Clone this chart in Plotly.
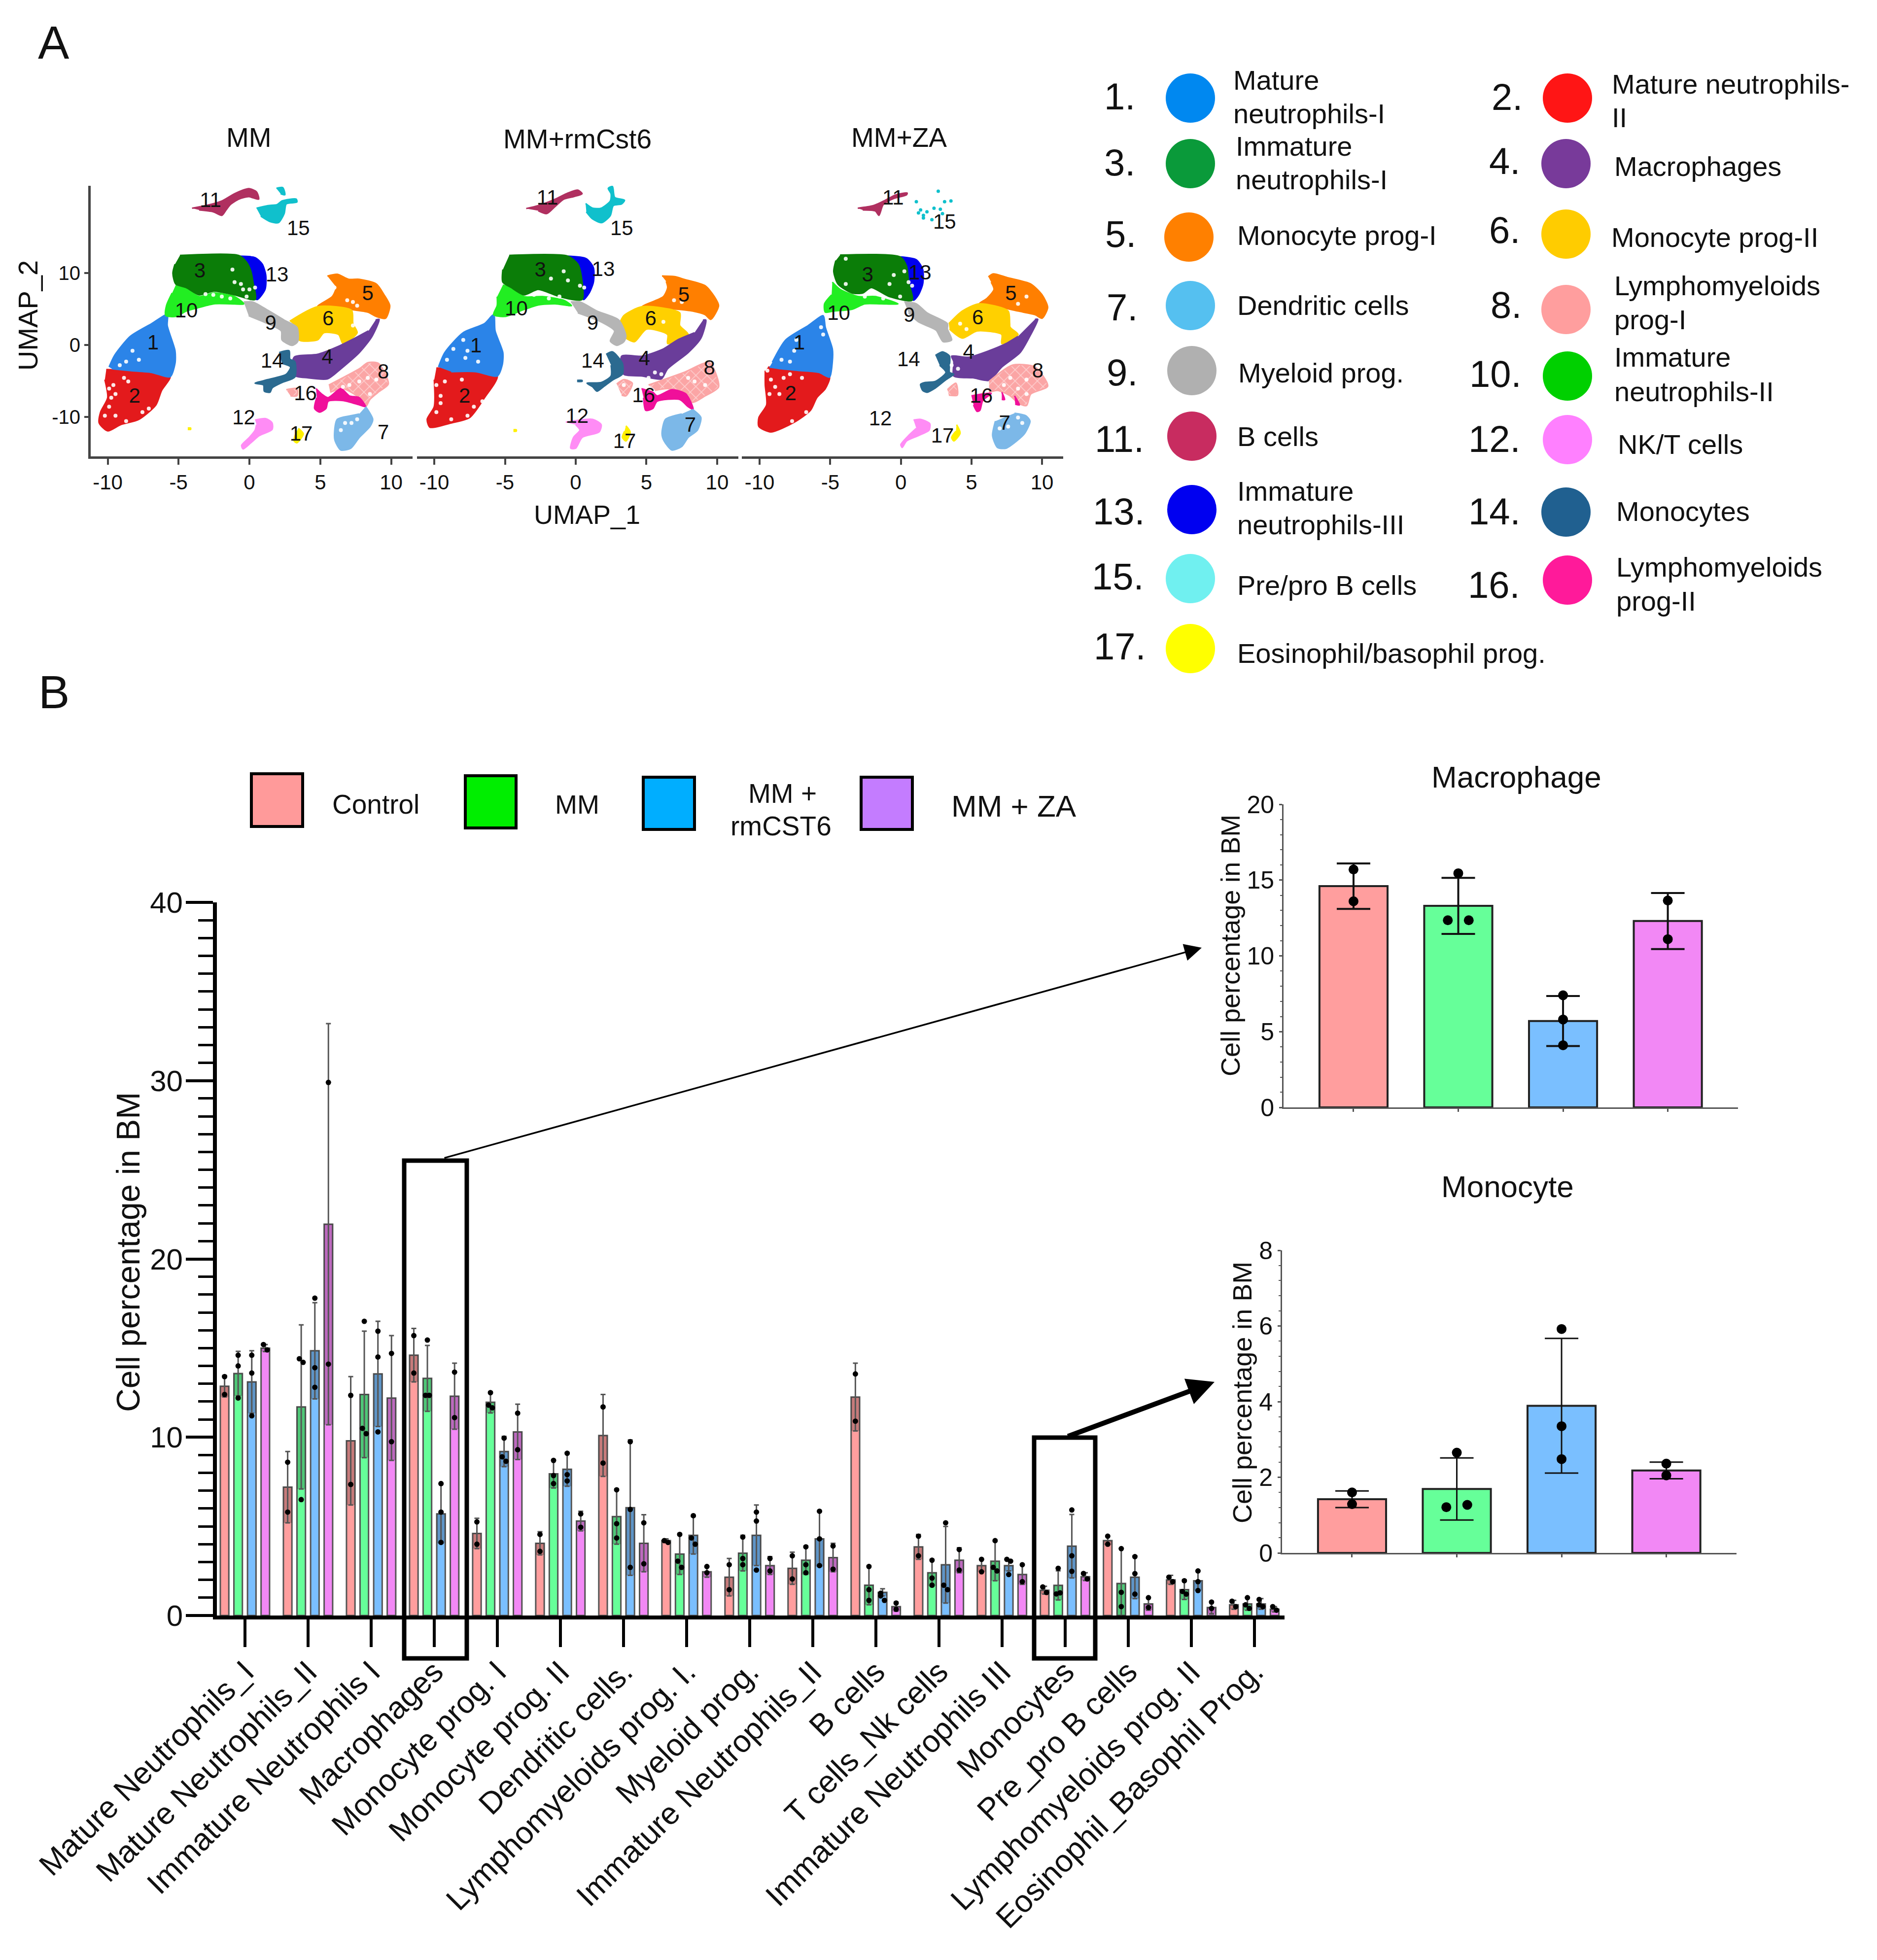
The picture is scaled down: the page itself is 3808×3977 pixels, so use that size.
import plotly.graph_objects as go

W, H = 3808, 3977
FONT = "Liberation Sans"

# ---------------------------------------------------------------- panel B data
CATEGORIES = ["Mature Neutrophils_I", "Mature Neutrophils_II", "Immature Neutrophils I", "Macrophages",
              "Monocyte prog. I", "Monocyte prog. II", "Dendritic cells.", "Lymphomyeloids prog. I.",
              "Myeloid prog.", "Immature Neutrophils_II", "B cells", "T cells_Nk cells",
              "Immature Neutrophils III", "Monocytes", "Pre_pro B cells", "Lymphomyeloids prog. II",
              "Eosinophil_Basophil Prog."]
SERIES = ["Control", "MM", "MM + rmCST6", "MM + ZA"]

CONTROL_MEAN = [12.86, 7.2, 9.8, 14.6, 4.6, 4.05, 10.1, 4.2, 2.15, 2.65, 12.25, 3.85, 2.8, 1.42, 4.2, 2.0, 0.6]
CONTROL_ERR = [0.6, 2.0, 3.6, 1.5, 0.85, 0.65, 2.3, 0.1, 1.05, 0.9, 1.9, 0.7, 0.35, 0.22, 0.25, 0.25, 0.25]
CONTROL_DOTS = [[13.4, 12.4], [8.6, 5.8], [12.35, 7.35], [15.7, 13.6], [5.25, 4.0], [4.55, 3.6], [11.7, 8.55],
                [4.2, 4.1], [2.85, 1.45], [3.35, 2.05], [13.55, 10.9], [4.45, 3.35], [3.15, 2.45], [1.6, 1.29],
                [4.45, 4.0], [2.15, 1.9], [0.8, 0.5]]

MM_MEAN = [13.57, 11.7, 12.4, 13.3, 11.96, 7.95, 5.55, 3.45, 3.5, 3.1, 1.7, 2.4, 3.05, 1.69, 1.8, 1.45, 0.65]
MM_ERR = [1.25, 4.6, 3.55, 1.85, 0.6, 0.8, 1.55, 1.15, 1.0, 0.8, 1.1, 0.75, 1.1, 0.82, 1.95, 0.55, 0.35]
MM_DOTS = [[14.6, 14.0, 12.2], [14.4, 14.2, 6.5], [16.5, 10.5, 10.2], [15.45, 12.35, 12.35], [12.5, 11.8, 11.65],
           [8.7, 7.85, 7.4], [7.05, 5.15, 4.35], [4.55, 3.05, 2.7], [4.4, 3.2, 2.85], [3.85, 2.85, 2.4],
           [2.75, 1.45, 0.85], [3.1, 2.1, 1.7], [4.2, 2.7, 2.5], [2.65, 1.21, 1.27], [3.75, 1.3, 0.5],
           [1.95, 1.35, 1.2], [1.0, 0.6, 0.4]]

RMCST6_MEAN = [13.1, 14.85, 13.55, 5.7, 9.2, 8.2, 6.05, 4.5, 4.5, 4.3, 1.3, 2.85, 2.8, 3.89, 2.15, 1.95, 0.65]
RMCST6_ERR = [1.75, 2.7, 2.95, 1.65, 0.85, 0.95, 3.8, 1.05, 1.7, 1.55, 0.2, 2.15, 0.3, 1.78, 1.2, 0.55, 0.3]
RMCST6_DOTS = [[14.6, 13.6, 11.2], [17.8, 13.9, 12.8], [15.95, 14.5, 10.3], [7.4, 5.8, 4.1], [9.95, 8.9, 8.65],
               [9.1, 7.9, 7.55], [9.75, 5.95, 2.7], [5.6, 4.35, 4.0], [5.8, 5.3, 2.55], [5.85, 4.3, 2.8],
               [1.25, 1.1, 0.85], [5.2, 1.7, 1.45], [3.15, 3.05, 2.3], [5.92, 3.35, 2.48], [3.3, 2.35, 1.2],
               [2.5, 1.9, 1.4], [0.9, 0.6, 0.5]]

ZA_MEAN = [15.0, 21.95, 12.2, 12.3, 10.3, 5.3, 4.05, 2.45, 2.8, 3.25, 0.5, 3.1, 2.3, 2.18, 0.65, 0.45, 0.35]
ZA_ERR = [0.2, 11.25, 3.5, 1.85, 1.55, 0.55, 1.6, 0.3, 0.5, 0.8, 0.25, 0.7, 0.55, 0.22, 0.35, 0.35, 0.15]
ZA_DOTS = [[15.2, 14.9], [29.9, 14.1], [14.7, 9.75], [13.65, 11.1], [11.35, 9.3], [5.7, 4.95], [5.2, 2.9],
           [2.75, 2.4], [3.2, 2.5], [3.9, 2.6], [0.7, 0.35], [3.7, 2.55], [2.85, 1.9], [2.36, 2.05],
           [1.0, 0.45], [0.75, 0.4], [0.5, 0.3]]

MACROPHAGE_INDEX = CATEGORIES.index("Macrophages")
MONOCYTE_INDEX = CATEGORIES.index("Monocytes")

# ---------------------------------------------------------------- panel A data
CLUSTER_NAMES = {1: ["Mature", "neutrophils-I"], 2: ["Mature neutrophils-", "II"], 3: ["Immature", "neutrophils-I"],
                 4: ["Macrophages"], 5: ["Monocyte prog-I"], 6: ["Monocyte prog-II"], 7: ["Dendritic cells"],
                 8: ["Lymphomyeloids", "prog-I"], 9: ["Myeloid prog."], 10: ["Immature", "neutrophils-II"],
                 11: ["B cells"], 12: ["NK/T cells"], 13: ["Immature", "neutrophils-III"], 14: ["Monocytes"],
                 15: ["Pre/pro B cells"], 16: ["Lymphomyeloids", "prog-II"], 17: ["Eosinophil/basophil prog."]}
N = None
MM_SHAPES = {
 2: ([-10.1,-8.4,-6.9,-5.6,-6.2,-6.6,-7.8,-9.1,-10,-10.6,-10.5,-10,-10.2], [-3.4,-3.55,-3.8,-4.4,-6.3,-8.3,-10.3,-11.05,-11.9,-10.8,-9.3,-7.3,-4.8]),
 1: ([-9.9,-9.5,-8.4,-6.9,-5.8,-5.8,-5.25,-5.25,-5.6,-6.9,-8.4,-9.7], [-3.05,-1.4,1.2,2.95,4.2,2.7,-0.8,-2.55,-4.4,-3.8,-3.55,-3.3]),
 10: ([-5.2,-4.45,-3.55,-2.5,-1.05,-0.4,-1.35,-2.5,-3.55,-4.45,-5.2,-5.9,-5.85,-5.45], [8.3,7.8,6.7,7.2,6.7,5.7,5.7,5.7,5.2,4.7,3.95,4.1,5.45,7.2]),
 13: ([-0.75,0.4,0.9,1.15,1.1,0.55,0.25,0.2,0.05,-0.3], [12.3,12.1,11.2,9.7,7.7,6.3,6.7,8.7,10.45,11.7]),
 3: ([-4.9,-0.75,-0.2,0.1,0.25,0.4,-1.05,-2.5,-3.55,-4.45,-5.2,-5.4,-5.25], [12.4,12.4,11.45,10.2,8.7,6.3,6.95,7.45,6.95,7.95,8.45,9.95,11.2]),
 5: ([5.5,6.2,7.0,7.75,8.95,9.5,9.9,9.6,8.95,8.35,7.0,4.8,5.85,6.15], [9.55,9.8,9.1,9.1,8.45,6.95,5.45,3.7,3.95,4.55,4.95,5.3,6.7,7.95]),
 6: ([2.85,4.8,7.2,7.3,7.6,6.6,6.3,5.25,4.8,3.5,3.35], [3.3,5.3,4.8,2.95,1.7,0.2,1.45,1.7,0.7,0.7,2.45]),
 9: ([-0.4,0.25,1.3,2.45,3.35,3.4,3.0,2.3,2.25,1.3,-0.05], [5.95,5.95,4.8,3.45,2.45,0.45,-0.05,0.7,1.95,2.95,4.05]),
 4: ([8.9,9.15,8.65,7.75,6.3,5.5,4.1,3.15,3.15,4.8,6.15,7.45,8.4], [3.45,3.55,1.2,-1.05,-3.55,-4.7,-4.55,-4.2,-1.7,-1.3,-0.3,0.95,1.95]),
 14: ([2.1,2.8,2.85,3.2,3.2,2.3,1.6,1.45,1.05,1.0,0.4,1.3,2.6,2.9,2.3], [-1.05,-0.8,-1.95,-2.3,-4.45,-5.2,-5.95,-6.55,-6.4,-5.55,-5.3,-4.8,-4.05,-3.05,-2.55]),
 8: ([5.6,7.75,8.35,9.1,9.8,9.15,8.5,8.2,7.75,6.6,5.7,N,2.6,3.35,3.35,2.9], [-5.55,-3.3,-2.45,-2.55,-5.4,-6.45,-7.55,-8.55,-7.3,-6.05,-6.55,N,-6.2,-6.05,-7.05,-7.05]),
 16: ([4.7,5.1,5.55,6.45,7.05,7.75,8.2,7.75,6.6,5.55,5.4,4.95,4.6,4.75], [-6.05,-6.8,-7.3,-6.05,-7.05,-7.3,-8.55,-8.3,-7.7,-7.8,-8.8,-9.3,-8.8,-7.3]),
 7: ([8.2,8.7,8.5,7.75,7.15,6.45,6.05,6.0,6.2,7.15,7.75], [-8.55,-10.3,-11.3,-12.8,-14.3,-14.55,-13.3,-12.3,-10.3,-9.8,-9.55]),
 12: ([0.4,1.15,1.6,1.6,0.7,0.1,-0.45,-0.55,0,0.4,0.5], [-10.4,-10.2,-10.8,-11.7,-12.55,-13.55,-14.4,-13.9,-12.8,-11.8,-11.05]),
 17: ([3.45,3.8,3.35,3.15,3.3,N,-4.35,-4.15,-4.15,-4.35], [-11.55,-12.3,-13.55,-13.3,-12.05,N,-11.5,-11.5,-11.7,-11.7]),
 11: ([-4.05,-3.1,-1.95,-1.05,-0.05,0.5,0.65,-0.05,-0.75,-1.35,-1.65,-1.95,-2.55,-3.55], [18.95,19.3,19.95,20.95,21.65,21.2,20.2,20.55,20.2,19.45,18.7,17.95,18.45,18.7]),
 15: ([0.5,1.3,1.95,2.3,3.3,3.35,2.6,2.45,2.05,1.45,0.8,N,1.9,2.35,2.5,2.2], [18.95,19.3,19.45,19.95,20.2,19.8,19.55,18.2,16.95,17.1,17.85,N,21.7,21.8,20.8,20.95]),
}
MM_RMCST6_SHAPES = {
 2: ([-9.85,-8.05,-5.55,-6.45,-7.5,-8.8,-10.3,-10.5,-10,-10], [-3.2,-3.4,-4.3,-7.3,-10.05,-10.8,-11.4,-10.3,-8.55,-4.8]),
 1: ([-9.7,-9.25,-7.95,-6.45,-5.8,-5.7,-5.15,-5.2,-5.55,-7.05,-8.8], [-3.05,-1.05,1.7,2.95,4.2,1.95,-1.05,-2.8,-4.3,-3.7,-3.7]),
 10: ([-5.15,-4.55,-3.65,-2.35,-0.85,-0.3,-1.45,-2.65,-3.8,-5,-5.8,-5.55,-5.55], [8.3,7.95,6.7,6.7,6.2,5.45,5.7,5.55,4.8,3.95,4.2,5.45,6.7]),
 13: ([-0.55,0.75,1.25,1.25,0.95,0.55,0.4,0.3], [12.3,11.95,10.7,8.7,7.2,6.3,8.7,10.7]),
 3: ([-4.7,-0.55,0.15,0.4,0.45,-1.15,-2.65,-3.65,-4.55,-5.15,-5.15], [12.4,12.3,11.2,9.45,6.3,6.7,7.7,6.95,7.95,8.7,10.45]),
 5: ([6.1,7.05,7.65,9.15,9.8,10.1,9.55,9.15,8.25,7.2,4.7,6.2,6.5,6.4], [9.55,9.45,9.1,8.2,6.7,5.45,3.55,4.2,4.7,4.95,5.3,6.7,7.95,8.8]),
 6: ([3.05,3.4,4.7,7.35,7.35,7.95,6.5,6.5,5.0,4.15,3.55], [2.7,4.05,5.3,4.45,2.7,1.45,0.2,1.45,2.2,0.45,0.95]),
 9: ([-0.35,0.3,1.5,3.05,3.55,3.4,2.9,2.45,2.75,1.8,0.15], [5.95,5.95,4.7,3.45,1.2,0.45,-0.05,0.55,1.95,3.2,4.45]),
 4: ([9,9.2,8.85,7.95,6.5,6.05,4.7,3.4,3.25,4.7,6.2,7.2,8.4], [3.45,3.45,0.95,-1.05,-3.3,-4.7,-4.3,-4.05,-1.55,-1.55,-0.55,0.7,1.7]),
 14: ([2.15,2.6,3.3,3.3,2.65,1.95,1.5,1.2,0.8,1.8,2.5,2.5,N,0.1,0.45,0.45,0.1], [-1.3,-0.95,-2.55,-4.05,-4.8,-5.8,-6.4,-5.8,-5.3,-5.2,-4.3,-2.8,N,-4.9,-4.9,-5.05,-5.05]),
 8: ([5.15,7.65,9.45,10.1,9.15,8.25,7.95,6.5,5.6,N,2.9,3.4,4.0,3.55,3.25], [-5.55,-3.8,-2.45,-5.8,-7.05,-7.95,-6.8,-6.05,-6.3,N,-5.4,-4.8,-5.3,-7.05,-6.95]),
 16: ([4.65,5.45,5.75,6.8,7.8,8.3,7.95,7.35,5.75,5.45,4.95,4.8], [-6.05,-6.55,-7.05,-6.2,-6.8,-8.9,-8.55,-7.55,-7.8,-8.8,-9.05,-7.3]),
 7: ([8.25,8.85,8.6,7.95,7.5,6.8,6.25,6.1,6.35,7.5], [-8.9,-10.05,-11.8,-12.8,-14.05,-14.55,-13.3,-12.3,-10.3,-9.55]),
 12: ([-0.7,1.2,1.8,1.65,0.45,0,-0.35,-0.15,0.3,0], [-10.7,-10.3,-11.05,-12.05,-12.8,-14.3,-14.3,-12.8,-11.8,-11.05]),
 17: ([3.55,3.85,3.55,3.3,3.45,N,-4.4,-4.2,-4.2,-4.4], [-11.2,-12.05,-13.3,-12.8,-11.95,N,-11.75,-11.75,-11.95,-11.95]),
 11: ([-3.5,-2.65,-1.45,-0.55,0.15,0.45,-0.15,-0.85,-1.45,-2.05,-2.65], [18.9,19.3,20.2,21.05,21.45,20.95,20.55,20.2,19.2,18.2,18.6]),
 15: ([0.7,1.2,1.8,2.45,2.5,2.3,2.6,2.75,3.45,3.25,2.65,2.45,1.85,1.2,0.75], [19.6,18.95,18.95,19.95,20.95,21.7,21.95,20.45,20.05,19.55,19.3,17.95,16.95,17.45,18.45]),
}
MM_ZA_SHAPES = {
 2: ([-9.4,-8.45,-7.1,-5.8,-5.05,-5.35,-5.95,-6.4,-7.55,-9.2,-10.05,-10.05,-9.5,-9.6,-9.6], [-3.05,-3.3,-3.55,-3.9,-4.45,-6.05,-7.3,-9.05,-10.7,-12.05,-11.3,-10.05,-8.3,-5.55,-3.55]),
 1: ([-9.1,-8.15,-6.55,-5.5,-5.35,-4.85,-4.85,-5.05,-5.8,-7.1,-8.45,-9.3], [-2.4,0.7,2.7,4.05,2.45,-0.55,-2.3,-4.45,-3.8,-3.55,-3.3,-3.05]),
 10: ([-4.85,-4.3,-3,-1.8,-0.2,-1.4,-2.55,-3.45,-4.75,-5.35,-5.4,-4.9], [8.7,7.7,6.7,6.7,5.7,5.7,5.7,4.95,4.7,4.55,5.7,6.95]),
 13: ([-0.05,1.1,1.55,1.55,1.25,0.9,0.55,0.4], [12.2,11.8,10.45,8.45,6.95,6.2,8.45,10.95]),
 3: ([-4.3,-0.05,0.4,0.55,0.8,-0.8,-2.1,-2.7,-3.45,-4.45,-4.75,-4.6], [12.45,12.2,10.95,8.7,6.2,6.7,7.95,7.2,7.2,8.45,10.2,11.7]),
 5: ([6.2,6.55,7.6,9.2,10,10.4,10,9.5,8.3,7.15,5.55,6.1,6.6,6.4], [9.45,9.85,9.3,8.45,6.95,5.2,3.7,4.2,4.7,5.2,5.7,6.45,7.7,8.7]),
 6: ([3.4,4.35,5.55,7.6,7.75,8.3,7.15,7.15,5.4,4.35,3.45], [2.95,4.7,5.7,4.7,2.45,1.45,0.2,1.45,1.95,0.95,2.2]),
 9: ([0.25,1.1,1.85,3.3,3.3,3.6,3.0,2.75,2.5,1.25,0.55], [5.95,5.7,4.45,2.95,2.2,0.7,0.45,1.2,2.05,3.2,4.45]),
 4: ([9.5,9.7,9.2,8.45,7.15,6.25,5.1,3.75,3.75,3.6,4.8,6.25,7.45,8.3], [3.55,3.55,1.45,-1.05,-3.05,-4.9,-4.55,-4.3,-2.3,-1.55,-1.7,-0.8,0.2,1.2]),
 14: ([2.45,2.95,3.45,3.45,3.75,3.2,2.45,1.85,1.55,1.4,1.7,2.45,3.2,2.75], [-1.45,-0.95,-1.55,-3.8,-4.05,-4.8,-5.95,-6.55,-6.3,-5.45,-5.2,-5.05,-3.8,-2.8]),
 8: ([6.25,7.9,9.5,10.4,9.2,8.9,8.3,7.75,6.85,6.25,N,3.3,3.9,4.0,3.4], [-5.05,-2.8,-3.05,-5.7,-6.8,-8.4,-8.05,-7.05,-6.3,-6.55,N,-6.2,-5.3,-6.95,-6.95]),
 16: ([5,6.4,5.8,5.6,5.4,5.15,N,7.15,7.35,7.15,N,8.05,8.4,8.1], [-7.05,-6.7,-7.7,-9.05,-9.2,-8.3,N,-6.55,-7.55,-7.55,N,-7.05,-8.3,-8.2]),
 7: ([8.05,8.85,9.15,8.75,8.2,7.45,6.85,6.5,6.7], [-9.45,-9.8,-10.55,-12.3,-13.3,-14.3,-14.2,-12.55,-10.55]),
 12: ([0.9,1.4,2.05,2.0,1.25,0.4,0.1,0,0.55,1.1], [-10.4,-10.3,-10.9,-11.8,-12.55,-13.3,-14.2,-13.8,-12.55,-11.55]),
 17: ([3.95,4.2,3.75,3.6,3.9], [-11.05,-12.2,-13.3,-12.8,-11.95]),
 11: ([-3.05,-1.95,-1.1,-0.35,0.45,0.4,-0.5,-1.25,-1.55,-1.8,-2.7], [18.95,19.3,20.05,20.8,21.05,20.8,20.3,19.45,17.95,18.55,18.7]),
}
MM_ZA_C15_X = [2.65,1.1,1.4,1.25,1.85,2.35,2.8,3.1,3.55,2.95,2.2,1.6,1.6]
MM_ZA_C15_Y = [21.3,19.85,18.7,18.3,18.45,18.95,18.8,19.85,19.95,18.2,17.35,17.6,17.95]

MM_GAPS_X = [-9.9,-9.6,-9.75,-9.9,-10.2,-9.45,-8.7,-7.55,-7.1,-9.45,-8.85,-8.55,-8.25,-7.8,-8.7,-9.15,-3.1,-2.55,-1.95,-1.35,-0.6,-1.05,-1.2,-0.45,-0.2,0.4,0,7.3,6.9,7.6,7.75,8.2,7.3,6,8.35,8.95,7.05,6.6,8.5,7.75,6.75,7.2,6.45,7.6]
MM_GAPS_Y = [-6.05,-5.55,-7.3,-8.55,-9.8,-9.8,-10.55,-9.3,-8.8,-6.8,-4.55,-5.05,-0.8,-2.05,-2.3,-2.8,7.05,6.95,6.7,6.45,8.45,8.7,10.45,7.7,6.7,7.95,7.7,5.95,6.2,5.45,3.95,3.45,2.7,7.95,-4.55,-4.8,-5.55,-5.8,-6.8,-5.05,-10.8,-10.8,-11.8,-10.3]
MM_RMCST6_GAPS_X = [-9.55,-9.85,-9.55,-8.8,-8.05,-7.2,-6.6,-7.65,-9.85,-9.25,-7.65,-7.95,-7.8,-6.9,-8.65,-9.1,-0.55,-0.85,-1.75,-2.95,-2.5,-1.9,-1.15,0.3,0.6,6.95,7.5,6.2,7.65,7.95,8.4,7.95,9.15,3.4,5.6,6.05,5.15]
MM_RMCST6_GAPS_Y = [-7.05,-5.55,-8.05,-10.3,-4.8,-8.55,-7.8,-9.8,-9.3,-5.05,-0.8,0.7,-1.8,-2.3,-0.55,-2.05,8.95,10.2,9.2,6.95,7.2,6.45,6.7,8.2,7.95,6.2,5.95,3.2,3.45,3.2,-5.05,-4.55,-5.55,-5.55,-3.8,-4.05,-4.55]
MM_ZA_GAPS_X = [-9.2,-8.3,-8.9,-7.85,-9.3,-9.45,-8.6,-7,-6.7,-7.7,-5.65,-5.5,-7.4,-7.55,-8.45,-7.85,-0.5,-0.8,-2.25,-2.55,-1.25,-0.05,-3.9,-3.9,0.55,0.8,0.25,8.2,8.6,7.9,8.9,8.3,4.65,4.2,4.05,3.6,7.75,8.9,8.3,7.3,8.9,8.3,7.6,8.6,7]
MM_ZA_GAPS_Y = [-4.8,-4.55,-5.8,-4.05,-6.8,-3.55,-6.8,-4.55,-9.3,-10.55,2.45,1.45,0.7,-0.8,-2.05,-2.3,9.7,8.45,7.2,6.7,6.45,6.7,11.95,8.45,8.7,8.2,10.2,3.45,3.2,2.7,6.7,5.7,2.2,2.95,-3.3,-2.8,-4.55,-4.8,-6.05,-5.55,-6.8,-10.05,-11.3,-10.8,-11.55]

MM_LABEL_X = [-6.8,-8.1,-3.5,5.5,8.35,5.55,9.45,9.45,1.5,-4.45,-2.75,-0.4,1.95,1.6,3.45,3.95,3.65]
MM_LABEL_Y = [0.1,-7.3,10.1,-1.9,6.95,3.45,-12.3,-3.95,2.8,4.55,19.8,-10.3,9.55,-2.4,15.95,-6.9,-12.55]
MM_RMCST6_LABEL_X = [-7.05,-7.85,-2.5,4.85,7.65,5.3,8.1,9.45,1.2,-4.2,-2,0.1,1.95,1.2,3.25,4.8,3.45]
MM_RMCST6_LABEL_Y = [-0.3,-7.3,10.2,-2.05,6.7,3.45,-11.3,-3.4,2.8,4.8,20.2,-10.05,10.3,-2.4,15.95,-7.2,-13.55]
MM_ZA_LABEL_X = [-7.2,-7.8,-2.35,4.8,7.8,5.45,7.35,9.7,0.6,-4.4,-0.55,-1.45,1.35,0.55,3.1,5.7,2.95]
MM_ZA_LABEL_Y = [0.1,-6.9,9.55,-1.2,6.95,3.55,-11.05,-3.8,3.95,4.2,20.2,-10.4,9.8,-2.2,16.8,-7.3,-12.8]
UMAP_PANELS = ["MM", "MM+rmCst6", "MM+ZA"]

# ---------------------------------------------------------------- styles
UMAP_COLORS = {1: "#2B84E8", 2: "#E31A1C", 3: "#0B7D08", 4: "#6A3D9A", 5: "#FF7F00", 6: "#FFD000", 7: "#7CB8E8",
               8: "#FBA5A5", 9: "#B5B5B5", 10: "#22EE22", 11: "#B03060", 12: "#FF8CF5", 13: "#0000EE", 14: "#2B6A90",
               15: "#10C0CC", 16: "#F0109A", 17: "#FFF000"}
KEY_COLORS = {1: "#0088F0", 2: "#FF1515", 3: "#0A9A3A", 4: "#783A9A", 5: "#FF8000", 6: "#FFCC00", 7: "#55C0F0",
              8: "#FF9E9E", 9: "#B0B0B0", 10: "#00D000", 11: "#C82C60", 12: "#FF80FF", 13: "#0000F0", 14: "#206090",
              15: "#70F0F0", 16: "#FF1A9A", 17: "#FFFF00"}
BAR_COLORS = ["#FF9E9E", "#66FF99", "#7ABFFF", "#F288F5"]
KEY_BAR_COLORS = ["#FF9A9A", "#00EE00", "#00AEFF", "#C47CFF"]
BAR_OFFSETS = [-0.323, -0.108, 0.108, 0.323]

def fx(p): return p / W
def fy(p): return 1 - p / H
def dom_x(a, b): return [fx(a), fx(b)]
def dom_y(top, bottom): return [fy(bottom), fy(top)]

fig = go.Figure()
annotations, shapes = [], []

def txt(x, y, text, size, anchor="center", angle=0):
    annotations.append(dict(x=fx(x), y=fy(y), xref="paper", yref="paper", text=text, showarrow=False,
                            font=dict(family=FONT, size=size, color="#111"), xanchor=anchor, yanchor="middle",
                            textangle=angle))

# ---------------------------------------------------------------- panel A
umap_sets = [(MM_SHAPES, MM_GAPS_X, MM_GAPS_Y, MM_LABEL_X, MM_LABEL_Y),
             (MM_RMCST6_SHAPES, MM_RMCST6_GAPS_X, MM_RMCST6_GAPS_Y, MM_RMCST6_LABEL_X, MM_RMCST6_LABEL_Y),
             (MM_ZA_SHAPES, MM_ZA_GAPS_X, MM_ZA_GAPS_Y, MM_ZA_LABEL_X, MM_ZA_LABEL_Y)]
for p, (shp, gx, gy, lx, ly) in enumerate(umap_sets):
    sfx = "" if p == 0 else str(p + 1)
    ax = dict(xaxis="x" + sfx, yaxis="y" + sfx)
    for c, (xs, ys) in shp.items():
        extra = {}
        if c == 8:
            extra["fillpattern"] = dict(shape="x", fgcolor="white", bgcolor=UMAP_COLORS[c], size=16, solidity=0.18)
        fig.add_trace(go.Scatter(x=xs, y=ys, mode="lines", fill="toself", fillcolor=UMAP_COLORS[c],
                                 line=dict(color=UMAP_COLORS[c], width=3, shape="spline", smoothing=0.7),
                                 showlegend=False, hoverinfo="skip", **extra, **ax))
    if p == 2:
        fig.add_trace(go.Scatter(x=MM_ZA_C15_X, y=MM_ZA_C15_Y, mode="markers", showlegend=False, hoverinfo="skip",
                                 marker=dict(color=UMAP_COLORS[15], size=7), **ax))
    fig.add_trace(go.Scatter(x=gx, y=gy, mode="markers", showlegend=False, hoverinfo="skip",
                             marker=dict(color="white", size=8, opacity=0.9), **ax))
    fig.add_trace(go.Scatter(x=lx, y=ly, mode="text", text=[str(i + 1) for i in range(17)], showlegend=False,
                             hoverinfo="skip", textfont=dict(family=FONT, size=42, color="#111"), **ax))

UMAP_TICKS = [-10, -5, 0, 5, 10]
umap_x_common = dict(tickvals=UMAP_TICKS, ticktext=[str(t) for t in UMAP_TICKS], showgrid=False, zeroline=False,
                     showline=True, linecolor="#444", linewidth=5, ticks="outside", ticklen=12, tickwidth=4,
                     tickcolor="#444", tickfont=dict(family=FONT, size=42, color="#111"))
umap_y_range = [-15.43, 22.05]
layout_axes = dict(
    xaxis=dict(domain=dom_x(184, 837), range=[-11.2, 11.51], anchor="y", **umap_x_common),
    yaxis=dict(domain=dom_y(377, 926), range=umap_y_range, anchor="x", tickvals=[-10, 0, 10],
               ticktext=["-10", "0", "10"], showgrid=False, zeroline=False, showline=True, linecolor="#444",
               linewidth=5, ticks="outside", ticklen=8, tickwidth=4, tickcolor="#444",
               tickfont=dict(family=FONT, size=40, color="#111")),
    xaxis2=dict(domain=dom_x(846, 1498), range=[-11.22, 11.5], anchor="y2", **umap_x_common),
    yaxis2=dict(domain=dom_y(377, 926), range=umap_y_range, anchor="x2", visible=False),
    xaxis3=dict(domain=dom_x(1505, 2157), range=[-11.26, 11.5], anchor="y3", **umap_x_common),
    yaxis3=dict(domain=dom_y(377, 926), range=umap_y_range, anchor="x3", visible=False),
)
txt(505, 279, UMAP_PANELS[0], 55)
txt(1171, 282, UMAP_PANELS[1], 55)
txt(1824, 279, UMAP_PANELS[2], 55)
txt(1191, 1044, "UMAP_1", 54)
txt(56, 640, "UMAP_2", 56, angle=-90)
txt(109, 86, "A", 95)
txt(109, 1404, "B", 95)

# cluster key
KEY_CIRCLES = {1: (2415, 199), 3: (2415, 332), 5: (2412, 481), 7: (2415, 620), 9: (2418, 752), 11: (2418, 885),
               13: (2418, 1034), 15: (2415, 1174), 17: (2415, 1316), 2: (3180, 199), 4: (3177, 332), 6: (3177, 475),
               8: (3177, 628), 10: (3180, 763), 12: (3180, 892), 14: (3177, 1039), 16: (3180, 1177)}
KEY_NUMBERS = {1: (2305, 195), 3: (2305, 329), 5: (2307, 475), 7: (2310, 624), 9: (2310, 755), 11: (2323, 890),
               13: (2325, 1037), 15: (2323, 1169), 17: (2327, 1312), 2: (3091, 197), 4: (3086, 327), 6: (3086, 466),
               8: (3089, 618), 10: (3089, 758), 12: (3087, 891), 14: (3087, 1037), 16: (3086, 1186)}
KEY_LINES = {1: (2500, [163, 230]), 3: (2505, [297, 364]), 5: (2508, [477]), 7: (2508, [620]), 9: (2510, [756]),
             11: (2508, [885]), 13: (2508, [997, 1064]), 15: (2508, [1188]), 17: (2508, [1325]),
             2: (3268, [171, 238]), 4: (3273, [338]), 6: (3267, [481]), 8: (3273, [580, 648]), 10: (3273, [725, 794]),
             12: (3280, [902]), 14: (3277, [1037]), 16: (3277, [1150, 1219])}
for c in range(1, 18):
    cx, cy = KEY_CIRCLES[c]
    shapes.append(dict(type="circle", xref="paper", yref="paper", x0=fx(cx - 50), x1=fx(cx + 50), y0=fy(cy + 50),
                       y1=fy(cy - 50), fillcolor=KEY_COLORS[c], line=dict(width=0)))
    nx, ny = KEY_NUMBERS[c]
    txt(nx, ny, f"{c}.", 76, anchor="right")
    lx, lys = KEY_LINES[c]
    for line, ly in zip(CLUSTER_NAMES[c], lys):
        txt(lx, ly, line, 56, anchor="left")

# ---------------------------------------------------------------- panel B helpers
def spread(vals, thr, off):
    """Points that would sit on top of each other are set side by side, as the original swarm does."""
    out = [0.0] * len(vals)
    for i in range(len(vals)):
        for j in range(i + 1, len(vals)):
            if abs(vals[i] - vals[j]) < thr:
                out[i], out[j] = -off, off
    return out

means = [CONTROL_MEAN, MM_MEAN, RMCST6_MEAN, ZA_MEAN]
errs = [CONTROL_ERR, MM_ERR, RMCST6_ERR, ZA_ERR]
dots = [CONTROL_DOTS, MM_DOTS, RMCST6_DOTS, ZA_DOTS]

# main chart
BAR_W = 0.135
for s in range(4):
    xs = [i + BAR_OFFSETS[s] for i in range(17)]
    fig.add_trace(go.Bar(x=xs, y=means[s], width=BAR_W, name=SERIES[s], marker=dict(color=BAR_COLORS[s],
                         line=dict(color="#555", width=3)), showlegend=False, hoverinfo="skip",
                         xaxis="x4", yaxis="y4"))
    fig.add_trace(go.Bar(x=xs, y=errs[s], base=[m - e for m, e in zip(means[s], errs[s])], width=BAR_W,
                         marker=dict(color="rgba(0,0,0,0.22)", line=dict(width=0)), showlegend=False,
                         hoverinfo="skip", xaxis="x4", yaxis="y4"))
for s in range(4):
    xs = [i + BAR_OFFSETS[s] for i in range(17)]
    fig.add_trace(go.Scatter(x=xs, y=means[s], mode="markers", marker=dict(size=1, color="rgba(0,0,0,0)"),
                             error_y=dict(type="data", array=errs[s], color="#555", thickness=3, width=5),
                             showlegend=False, hoverinfo="skip", xaxis="x4", yaxis="y4"))
    dx, dy = [], []
    for i in range(17):
        off = spread(dots[s][i], 0.35, 0.03)
        for v, o in zip(dots[s][i], off):
            dx.append(i + BAR_OFFSETS[s] + o)
            dy.append(v)
    fig.add_trace(go.Scatter(x=dx, y=dy, mode="markers", marker=dict(size=11, color="black"), showlegend=False,
                             hoverinfo="skip", xaxis="x4", yaxis="y4"))

layout_axes.update(
    xaxis4=dict(domain=dom_x(440, 2606), range=[-0.445, 16.48], anchor="y4", tickvals=list(range(17)),
                ticktext=CATEGORIES, tickangle=-45, showgrid=False, zeroline=False, showline=True, linecolor="black",
                linewidth=8, ticks="outside", ticklen=56, tickwidth=6, tickcolor="black", ticklabelstandoff=-12,
                tickfont=dict(family=FONT, size=63, color="#111")),
    yaxis4=dict(domain=dom_y(1831, 3278), range=[0, 40], anchor="x4", tickvals=[0, 10, 20, 30, 40], showgrid=False,
                zeroline=False, showline=True, linecolor="black", linewidth=8, ticks="outside", ticklen=55,
                tickwidth=6, tickcolor="black", tickfont=dict(family=FONT, size=60, color="#111"),
                ticklabelstandoff=-6,
                minor=dict(ticks="outside", ticklen=30, tickwidth=5, tickcolor="black", dtick=1, showgrid=False)),
)
txt(260, 2541, "Cell percentage in BM", 66, angle=-90)

# insets
def inset(idx, xname, yname, thick, thr):
    for s in range(4):
        fig.add_trace(go.Bar(x=[s], y=[means[s][idx]], width=0.65, marker=dict(color=BAR_COLORS[s],
                             line=dict(color="#222", width=4)), showlegend=False, hoverinfo="skip",
                             xaxis=xname, yaxis=yname))
    for s in range(4):
        fig.add_trace(go.Scatter(x=[s], y=[means[s][idx]], mode="markers", marker=dict(size=1, color="rgba(0,0,0,0)"),
                                 error_y=dict(type="data", array=[errs[s][idx]], color="#111", thickness=thick, width=34),
                                 showlegend=False, hoverinfo="skip", xaxis=xname, yaxis=yname))
        vals = dots[s][idx]
        off = spread(vals, thr, 0.1)
        fig.add_trace(go.Scatter(x=[s + o for o in off], y=vals, mode="markers", marker=dict(size=20, color="black"),
                                 showlegend=False, hoverinfo="skip", xaxis=xname, yaxis=yname))

inset(MACROPHAGE_INDEX, "x5", "y5", 4, 0.2)
inset(MONOCYTE_INDEX, "x6", "y6", 3, 0.08)
inset_x = dict(tickvals=[0, 1, 2, 3], ticktext=["", "", "", ""], showgrid=False, zeroline=False, showline=True,
               linecolor="#555", linewidth=3, ticks="outside", ticklen=6, tickwidth=3, tickcolor="#555")
inset_y = dict(showgrid=False, zeroline=False, showline=True, linecolor="#555", linewidth=3, ticks="outside",
               ticklen=6, tickwidth=3, tickcolor="#555", tickfont=dict(family=FONT, size=50, color="#111"))
layout_axes.update(
    xaxis5=dict(domain=dom_x(2604, 3526), range=[-0.668, 3.67], anchor="y5", **inset_x),
    yaxis5=dict(domain=dom_y(1632, 2247), range=[0, 20], anchor="x5", tickvals=[0, 5, 10, 15, 20],
                minor=dict(ticks="outside", ticklen=4, tickwidth=2, tickcolor="#555", dtick=1, showgrid=False), **inset_y),
    xaxis6=dict(domain=dom_x(2601, 3523), range=[-0.668, 3.67], anchor="y6", **inset_x),
    yaxis6=dict(domain=dom_y(2537, 3151), range=[0, 8], anchor="x6", tickvals=[0, 2, 4, 6, 8],
                minor=dict(ticks="outside", ticklen=4, tickwidth=2, tickcolor="#555", dtick=0.4, showgrid=False), **inset_y),
)
txt(3076, 1576, "Macrophage", 62)
txt(3058, 2407, "Monocyte", 62)
txt(2496, 1919, "Cell percentage in BM", 54, angle=-90)
txt(2520, 2826, "Cell percentage in BM", 54, angle=-90)

# series key
KEY_RECTS = [(510, 614, 1570, 1677), (944, 1047, 1574, 1680), (1305, 1409, 1577, 1683), (1747, 1851, 1577, 1683)]
for s, (x0, x1, y0, y1) in enumerate(KEY_RECTS):
    shapes.append(dict(type="rect", xref="paper", yref="paper", x0=fx(x0), x1=fx(x1), y0=fy(y1), y1=fy(y0),
                       fillcolor=KEY_BAR_COLORS[s], line=dict(color="black", width=6)))
txt(762, 1632, "Control", 55)
txt(1171, 1632, "MM", 54)
txt(1587, 1610, "MM +", 55)
txt(1584, 1676, "rmCST6", 55)
txt(2057, 1635, "MM + ZA", 62)

# zoom boxes and arrows
for x0, x1, y0, y1 in [(820, 947, 2355, 3365), (2098, 2222, 2917, 3365)]:
    shapes.append(dict(type="rect", xref="paper", yref="paper", x0=fx(x0), x1=fx(x1), y0=fy(y1), y1=fy(y0),
                       line=dict(color="black", width=9), layer="above"))
annotations.append(dict(x=fx(2438), y=fy(1923), xref="paper", yref="paper", ax=900 - 2438, ay=2350 - 1923,
                        axref="pixel", ayref="pixel", showarrow=True, arrowhead=2, arrowsize=2, arrowwidth=3.5,
                        arrowcolor="black", text=""))
annotations.append(dict(x=fx(2464), y=fy(2804), xref="paper", yref="paper", ax=2165 - 2464, ay=2915 - 2804,
                        axref="pixel", ayref="pixel", showarrow=True, arrowhead=2, arrowsize=1.1, arrowwidth=10,
                        arrowcolor="black", text=""))

fig.update_layout(width=W, height=H, autosize=False, margin=dict(l=0, r=0, t=0, b=0, autoexpand=False),
                  paper_bgcolor="white", plot_bgcolor="white", barmode="overlay", showlegend=False,
                  annotations=annotations, shapes=shapes, **layout_axes)
fig.write_html("out.html", config={"displayModeBar": False},
               post_script="document.body.style.margin='0';document.documentElement.style.overflow='hidden';")
